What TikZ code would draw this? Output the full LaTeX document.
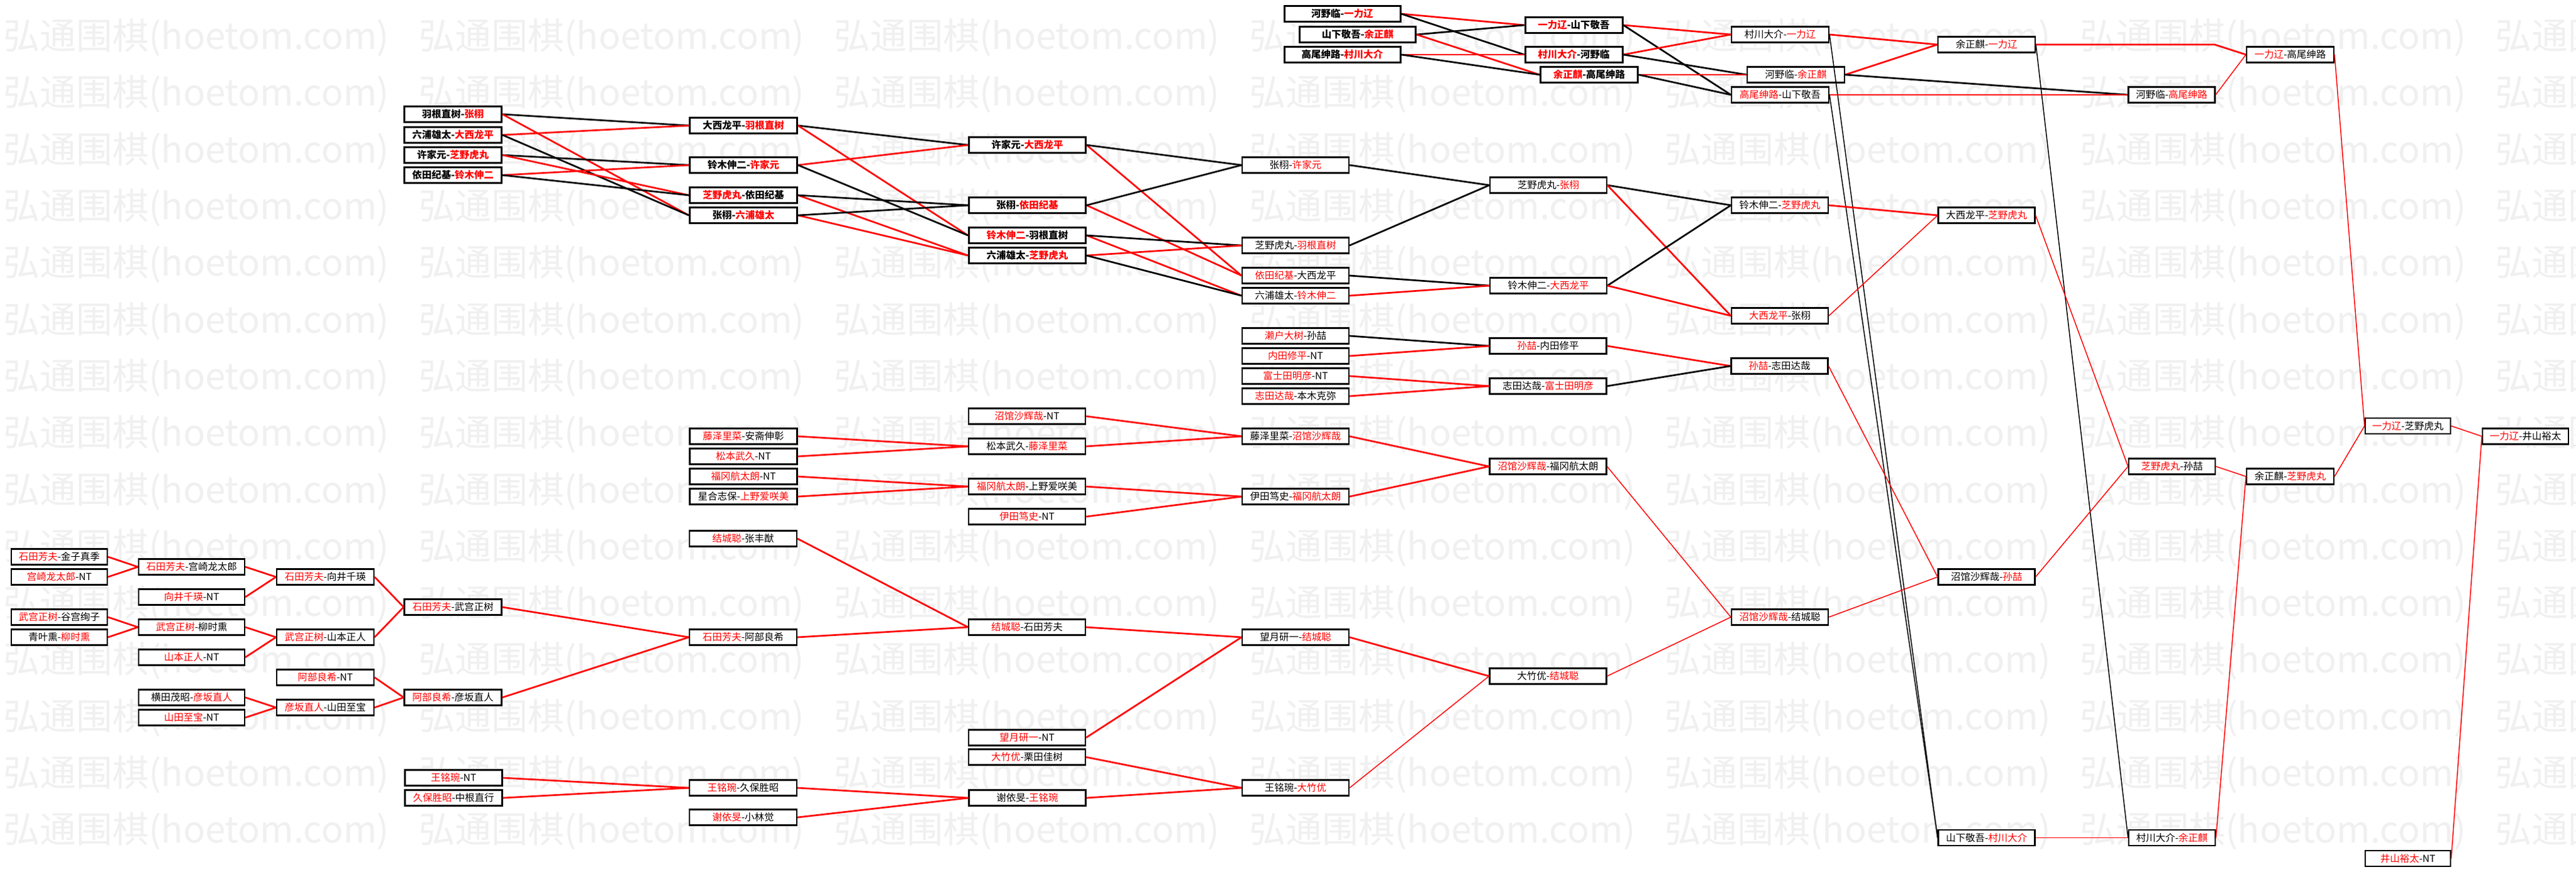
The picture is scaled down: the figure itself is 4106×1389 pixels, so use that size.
\documentclass[tikz,border=0pt]{standalone}
\usepackage{fontspec}
\newfontfamily\cjk{Noto Sans CJK SC}
\definecolor{wr}{HTML}{FF0000}
\definecolor{wmark}{HTML}{F0F0F0}
\newcommand\rd[1]{\textcolor{wr}{#1}}
\begin{document}
\begin{tikzpicture}[x=1pt,y=-1pt,
  box/.style={draw=black, line width=2.2pt, fill=white, minimum height=25pt, inner sep=0pt, font=\cjk\fontsize{15.5}{18}\selectfont},
  bbox/.style={box, line width=3pt, font=\cjk\bfseries\fontsize{15.5}{18}\selectfont},
  wm/.style={text=wmark, inner sep=0pt, anchor=west, font=\cjk\fontsize{58}{60}\selectfont},
  k0/.style={minimum width=153pt}, k1/.style={minimum width=169pt}, k2/.style={minimum width=155pt},
  k3/.style={minimum width=155pt}, k4/.style={minimum width=171pt}, k5/.style={minimum width=186pt},
  k6/.style={minimum width=170pt}, k7/.style={minimum width=186pt}, k8/.style={minimum width=154pt},
  k9/.style={minimum width=154pt}, k10/.style={minimum width=138pt}, k11/.style={minimum width=139pt},
  k12/.style={minimum width=136pt}, k13/.style={minimum width=137pt}, kt/.style={minimum width=185pt},
  lr/.style={draw=wr, line width=2.7pt}, lb/.style={draw=black, line width=2.7pt},
  tr/.style={draw=wr, line width=1.5pt}, tb/.style={draw=black, line width=1.5pt}]
\useasboundingbox (0,0) rectangle (4106,1389);
\fill[white] (0,0) rectangle (4106,1389);
\begin{scope}
\clip (0,0) rectangle (4106,1389);
\foreach \k in {0,...,14}{\foreach \i in {-1,...,6}{
  \node[wm] (wm-\i-\k) at ({5+662*\i},{60+90.3*\k}) {弘通围棋(hoetom.com)};}}
\end{scope}
% ---------- top cluster ----------
\node[bbox,kt] (t1) at (2139.5,22) {河野临-\rd{一力辽}};
\node[bbox,kt] (t2) at (2164,55) {山下敬吾-\rd{余正麒}};
\node[bbox,kt] (t3) at (2139.5,87) {高尾绅路-\rd{村川大介}};
\node[bbox,k2] (t4) at (2508.5,40) {\rd{一力辽}-山下敬吾};
\node[bbox,k2] (t5) at (2508.5,87) {\rd{村川大介}-河野临};
\node[bbox,k2] (t6) at (2533,119) {\rd{余正麒}-高尾绅路};
\node[box,k2] (t7) at (2837.5,55) {村川大介-\rd{一力辽}};
\node[box,k2] (t8) at (3166.5,71) {余正麒-\rd{一力辽}};
\node[box,k2] (t9) at (2862.5,119) {河野临-\rd{余正麒}};
\node[box,k2] (t10) at (2837.5,151) {\rd{高尾绅路}-山下敬吾};
\node[box,k11] (t11) at (3650.5,87) {\rd{一力辽}-高尾绅路};
\node[box,k10] (t12) at (3461.5,151) {河野临-\rd{高尾绅路}};
% ---------- upper left ----------
\node[bbox,k3] (a1) at (722,182) {羽根直树-\rd{张栩}};
\node[bbox,k3] (a2) at (722,215) {六浦雄太-\rd{大西龙平}};
\node[bbox,k3] (a3) at (722,247) {许家元-\rd{芝野虎丸}};
\node[bbox,k3] (a4) at (722,279) {依田纪基-\rd{铃木伸二}};
\node[bbox,k4] (b1) at (1185,200) {大西龙平-\rd{羽根直树}};
\node[bbox,k4] (b2) at (1185,263) {铃木伸二-\rd{许家元}};
\node[bbox,k4] (b3) at (1185,311) {\rd{芝野虎丸}-依田纪基};
\node[bbox,k4] (b4) at (1185,343) {张栩-\rd{六浦雄太}};
\node[bbox,k5] (c1) at (1637.5,231) {许家元-\rd{大西龙平}};
\node[bbox,k5] (c2) at (1637.5,327) {张栩-\rd{依田纪基}};
\node[bbox,k5] (c3) at (1637.5,375) {\rd{铃木伸二}-羽根直树};
\node[bbox,k5] (c4) at (1637.5,407) {六浦雄太-\rd{芝野虎丸}};
\node[box,k6] (d1) at (2065,263) {张栩-\rd{许家元}};
\node[box,k6] (d2) at (2065,391) {芝野虎丸-\rd{羽根直树}};
\node[box,k6] (d3) at (2065,439) {\rd{依田纪基}-大西龙平};
\node[box,k6] (d4) at (2065,471) {六浦雄太-\rd{铃木伸二}};
\node[box,k7] (e1) at (2468,295) {芝野虎丸-\rd{张栩}};
\node[box,k7] (e2) at (2468,455) {铃木伸二-\rd{大西龙平}};
\node[box,k8] (f1) at (2837,327) {铃木伸二-\rd{芝野虎丸}};
\node[box,k8] (f2) at (2837,503) {\rd{大西龙平}-张栩};
\node[box,k9] (g1) at (3166.5,343) {大西龙平-\rd{芝野虎丸}};
% ---------- middle top ----------
\node[box,k6] (m1) at (2065,535) {\rd{濑户大树}-孙喆};
\node[box,k6] (m2) at (2065,567) {\rd{内田修平}-NT};
\node[box,k6] (m3) at (2065,599) {\rd{富士田明彦}-NT};
\node[box,k6] (m4) at (2065,631) {\rd{志田达哉}-本木克弥};
\node[box,k7] (n1) at (2467.5,551) {\rd{孙喆}-内田修平};
\node[box,k7] (n2) at (2467.5,615) {志田达哉-\rd{富士田明彦}};
\node[box,k8] (o1) at (2836.5,583) {\rd{孙喆}-志田达哉};
% ---------- middle ----------
\node[box,k4] (p1) at (1185,695) {\rd{藤泽里菜}-安斋伸彰};
\node[box,k4] (p2) at (1185,727) {\rd{松本武久}-NT};
\node[box,k4] (p3) at (1185,759) {\rd{福冈航太朗}-NT};
\node[box,k4] (p4) at (1185,791) {星合志保-\rd{上野爱咲美}};
\node[box,k5] (q1) at (1637,663) {\rd{沼馆沙辉哉}-NT};
\node[box,k5] (q2) at (1637,711) {松本武久-\rd{藤泽里菜}};
\node[box,k5] (q3) at (1637,775) {\rd{福冈航太朗}-上野爱咲美};
\node[box,k5] (q4) at (1637,823) {\rd{伊田笃史}-NT};
\node[box,k6] (r1) at (2065,695) {藤泽里菜-\rd{沼馆沙辉哉}};
\node[box,k6] (r2) at (2065,791) {伊田笃史-\rd{福冈航太朗}};
\node[box,k7] (s1) at (2467.5,743) {\rd{沼馆沙辉哉}-福冈航太朗};
% ---------- lower left ----------
\node[box,k0] (L1) at (94.5,887) {\rd{石田芳夫}-金子真季};
\node[box,k0] (L2) at (94.5,919) {\rd{宫崎龙太郎}-NT};
\node[box,k0] (L3) at (94.5,983) {\rd{武宫正树}-谷宫绚子};
\node[box,k0] (L4) at (94.5,1015) {青叶熏-\rd{柳时熏}};
\node[box,k1] (M1) at (305.5,903) {\rd{石田芳夫}-宫崎龙太郎};
\node[box,k1] (M2) at (305.5,951) {\rd{向井千瑛}-NT};
\node[box,k1] (M3) at (305.5,999) {\rd{武宫正树}-柳时熏};
\node[box,k1] (M4) at (305.5,1047) {\rd{山本正人}-NT};
\node[box,k1] (M5) at (305.5,1111) {横田茂昭-\rd{彦坂直人}};
\node[box,k1] (M6) at (305.5,1143) {\rd{山田至宝}-NT};
\node[box,k2] (N1) at (518.5,919) {\rd{石田芳夫}-向井千瑛};
\node[box,k2] (N2) at (518.5,1015) {\rd{武宫正树}-山本正人};
\node[box,k2] (N3) at (518.5,1079) {\rd{阿部良希}-NT};
\node[box,k2] (N4) at (518.5,1127) {\rd{彦坂直人}-山田至宝};
\node[box,k3] (O1) at (722,967) {\rd{石田芳夫}-武宫正树};
\node[box,k3] (O2) at (722,1111) {\rd{阿部良希}-彦坂直人};
\node[box,k4] (P0) at (1184.5,858) {\rd{结城聪}-张丰猷};
\node[box,k4] (P1) at (1184.5,1015) {\rd{石田芳夫}-阿部良希};
\node[box,k5] (Q1) at (1637,999) {\rd{结城聪}-石田芳夫};
\node[box,k5] (Q2) at (1637,1175) {\rd{望月研一}-NT};
\node[box,k5] (Q3) at (1637,1206) {\rd{大竹优}-栗田佳树};
\node[box,k6] (R1) at (2065,1015) {望月研一-\rd{结城聪}};
\node[box,k7] (S1) at (2467.5,1077) {大竹优-\rd{结城聪}};
\node[box,k8] (T1) at (2837,983) {\rd{沼馆沙辉哉}-结城聪};
% ---------- bottom ----------
\node[box,k3] (B1) at (723,1239) {\rd{王铭琬}-NT};
\node[box,k3] (B2) at (723,1271) {\rd{久保胜昭}-中根直行};
\node[box,k4] (B3) at (1184.5,1255) {\rd{王铭琬}-久保胜昭};
\node[box,k4] (B4) at (1184.5,1302) {\rd{谢依旻}-小林觉};
\node[box,k5] (B5) at (1637.5,1271) {谢依旻-\rd{王铭琬}};
\node[box,k6] (B6) at (2065,1255) {王铭琬-\rd{大竹优}};
% ---------- right ----------
\node[box,k10] (X1) at (3462,743) {\rd{芝野虎丸}-孙喆};
\node[box,k9] (X2) at (3166.5,919) {沼馆沙辉哉-\rd{孙喆}};
\node[box,k11] (X3) at (3650.5,759) {余正麒-\rd{芝野虎丸}};
\node[box,k12] (X4) at (3838,678.5) {\rd{一力辽}-芝野虎丸};
\node[box,k13] (X5) at (4025.5,695) {\rd{一力辽}-井山裕太};
\node[box,k12] (X6) at (3838,1367.5) {\rd{井山裕太}-NT};
\node[box,k9] (X7) at (3166.5,1334.5) {山下敬吾-\rd{村川大介}};
\node[box,k10] (X8) at (3462,1334.5) {村川大介-\rd{余正麒}};
\coordinate (k1) at (3530,71);
% ---------- connectors ----------
\draw[lr] (t1.east) -- (t4.west); \draw[lb] (t1.east) -- (t5.west);
\draw[lb] (t2.east) -- (t4.west); \draw[lr] (t2.east) -- (t6.west);
\draw[lr] (t3.east) -- (t5.west); \draw[lb] (t3.east) -- (t6.west);
\draw[lr] (t4.east) -- (t7.west); \draw[lb] (t4.east) -- (t10.west);
\draw[lr] (t5.east) -- (t7.west); \draw[lb] (t5.east) -- (t9.west);
\draw[lr] (t6.east) -- (t9.west); \draw[lb] (t6.east) -- (t10.west);
\draw[lr] (t7.east) -- (t8.west); \draw[tb] (t7.east) -- (X7.west);
\draw[lr] (t9.east) -- (t8.west); \draw[lb] (t9.east) -- (t12.west);
\draw[lr] (t10.east) -- (t12.west); \draw[tb] (t10.east) -- (X7.west);
\draw[lr] (t8.east) -- (k1) -- (t11.west); \draw[tb] (t8.east) -- (X8.west);
\draw[tr] (t12.east) -- (t11.west);
\draw[tr] (t11.east) -- (X4.west);
\draw[lb] (a1.east) -- (b1.west); \draw[lr] (a1.east) -- (b4.west);
\draw[lr] (a2.east) -- (b1.west); \draw[lb] (a2.east) -- (b4.west);
\draw[lb] (a3.east) -- (b2.west); \draw[lr] (a3.east) -- (b3.west);
\draw[lr] (a4.east) -- (b2.west); \draw[lb] (a4.east) -- (b3.west);
\draw[lb] (b1.east) -- (c1.west); \draw[lr] (b1.east) -- (c3.west);
\draw[lr] (b2.east) -- (c1.west); \draw[lb] (b2.east) -- (c3.west);
\draw[lr] (b3.east) -- (c4.west); \draw[lb] (b3.east) -- (c2.west);
\draw[lr] (b4.east) -- (c4.west); \draw[lb] (b4.east) -- (c2.west);
\draw[lr] (c1.east) -- (d3.west); \draw[lb] (c1.east) -- (d1.west);
\draw[lr] (c2.east) -- (d3.west); \draw[lb] (c2.east) -- (d1.west);
\draw[lr] (c3.east) -- (d4.west); \draw[lb] (c3.east) -- (d2.west);
\draw[lr] (c4.east) -- (d2.west); \draw[lb] (c4.east) -- (d4.west);
\draw[lb] (d1.east) -- (e1.west); \draw[lb] (d2.east) -- (e1.west);
\draw[lb] (d3.east) -- (e2.west); \draw[lr] (d4.east) -- (e2.west);
\draw[lb] (e1.east) -- (f1.west); \draw[lr] (e1.east) -- (f2.west);
\draw[lb] (e2.east) -- (f1.west); \draw[lr] (e2.east) -- (f2.west);
\draw[lr] (f1.east) -- (g1.west); \draw[tr] (f2.east) -- (g1.west);
\draw[tr] (g1.east) -- (X1.west);
\draw[lb] (m1.east) -- (n1.west); \draw[lr] (m2.east) -- (n1.west);
\draw[lr] (m3.east) -- (n2.west); \draw[lr] (m4.east) -- (n2.west);
\draw[lr] (n1.east) -- (o1.west); \draw[lb] (n2.east) -- (o1.west);
\draw[tr] (o1.east) -- (X2.west);
\draw[lr] (p1.east) -- (q2.west); \draw[lr] (p2.east) -- (q2.west);
\draw[lr] (p3.east) -- (q3.west); \draw[lr] (p4.east) -- (q3.west);
\draw[lr] (q1.east) -- (r1.west); \draw[lr] (q2.east) -- (r1.west);
\draw[lr] (q3.east) -- (r2.west); \draw[lr] (q4.east) -- (r2.west);
\draw[lr] (r1.east) -- (s1.west); \draw[lr] (r2.east) -- (s1.west);
\draw[tr] (s1.east) -- (T1.west);
\draw[lr] (L1.east) -- (M1.west); \draw[lr] (L2.east) -- (M1.west);
\draw[lr] (L3.east) -- (M3.west); \draw[lr] (L4.east) -- (M3.west);
\draw[lr] (M1.east) -- (N1.west); \draw[lr] (M2.east) -- (N1.west);
\draw[lr] (M3.east) -- (N2.west); \draw[lr] (M4.east) -- (N2.west);
\draw[lr] (M5.east) -- (N4.west); \draw[lr] (M6.east) -- (N4.west);
\draw[lr] (N1.east) -- (O1.west); \draw[lr] (N2.east) -- (O1.west);
\draw[lr] (N3.east) -- (O2.west); \draw[lr] (N4.east) -- (O2.west);
\draw[lr] (O1.east) -- (P1.west); \draw[lr] (O2.east) -- (P1.west);
\draw[lr] (P1.east) -- (Q1.west); \draw[lr] (P0.east) -- (Q1.west);
\draw[lr] (Q1.east) -- (R1.west); \draw[lr] (Q2.east) -- (R1.west);
\draw[lr] (R1.east) -- (S1.west); \draw[tr] (B6.east) -- (S1.west);
\draw[tr] (S1.east) -- (T1.west);
\draw[tr] (T1.east) -- (X2.west);
\draw[lr] (B1.east) -- (B3.west); \draw[lr] (B2.east) -- (B3.west);
\draw[lr] (B3.east) -- (B5.west); \draw[lr] (B4.east) -- (B5.west);
\draw[lr] (B5.east) -- (B6.west); \draw[lr] (Q3.east) -- (B6.west);
\draw[tr] (X2.east) -- (X1.west);
\draw[tr] (X1.east) -- (X3.west);
\draw[tr] (X3.east) -- (X4.west);
\draw[tr] (X8.east) -- (X3.west);
\draw[tr] (X7.east) -- (X8.west);
\draw[tr] (X4.east) -- (X5.west);
\draw[tr] (X6.east) -- (X5.west);
\end{tikzpicture}
\end{document}
